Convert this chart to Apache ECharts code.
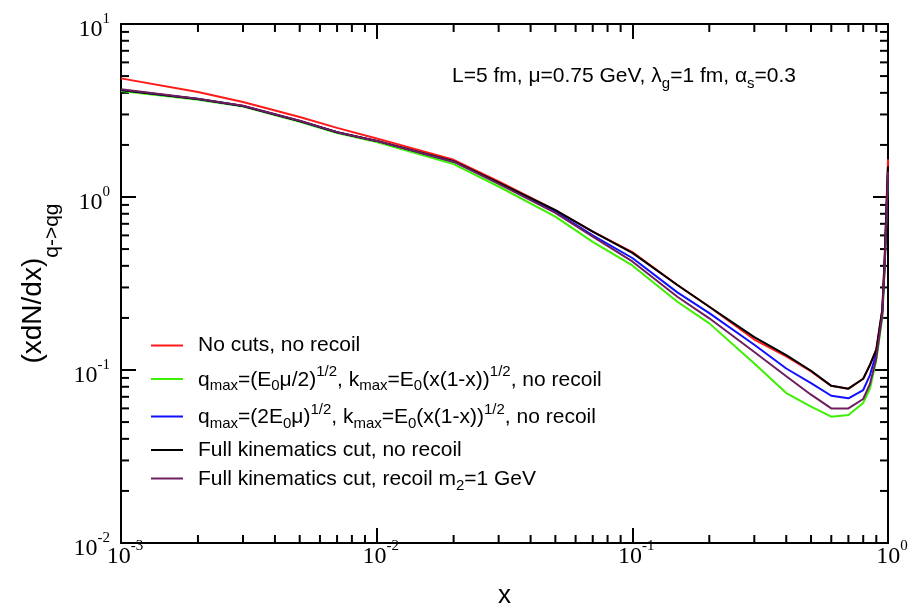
<!DOCTYPE html>
<html>
<head>
<meta charset="utf-8">
<script src="https://cdn.jsdelivr.net/npm/echarts@6/dist/echarts.min.js"></script>
<style>
html, body { margin: 0; padding: 0; background: #fff; }
#chart { width: 920px; height: 607px; }
</style>
</head>
<body>
<div id="chart"></div>
<script>
// x values (log axis) and the five curves
const xValues = [0.001, 0.002, 0.003, 0.005, 0.007, 0.01, 0.02, 0.03, 0.05, 0.07, 0.1, 0.15, 0.2, 0.3, 0.4, 0.5, 0.6, 0.7, 0.8, 0.85, 0.9, 0.95, 0.97, 0.99, 1.0];
const noCuts   = [4.85, 4.05, 3.54, 2.90, 2.51, 2.18, 1.64, 1.23, 0.84, 0.63, 0.48, 0.31, 0.232, 0.150, 0.120, 0.098, 0.081, 0.078, 0.089, 0.107, 0.131, 0.225, 0.44, 1.05, 1.65];
const qHalf    = [4.10, 3.65, 3.33, 2.72, 2.34, 2.08, 1.55, 1.15, 0.77, 0.55, 0.402, 0.248, 0.186, 0.109, 0.0736, 0.0615, 0.0537, 0.055, 0.0645, 0.078, 0.114, 0.20, 0.38, 0.90, 1.40];
const qTwo     = [4.15, 3.68, 3.36, 2.75, 2.37, 2.11, 1.60, 1.20, 0.82, 0.60, 0.444, 0.281, 0.213, 0.140, 0.102, 0.084, 0.071, 0.0686, 0.0766, 0.0935, 0.125, 0.216, 0.40, 0.96, 1.40];
const fullKin  = [4.15, 3.68, 3.36, 2.75, 2.37, 2.11, 1.61, 1.21, 0.84, 0.63, 0.475, 0.31, 0.232, 0.155, 0.122, 0.099, 0.081, 0.078, 0.089, 0.107, 0.131, 0.222, 0.43, 1.00, 1.50];
const recoil   = [4.20, 3.70, 3.37, 2.76, 2.37, 2.11, 1.60, 1.19, 0.81, 0.59, 0.424, 0.265, 0.199, 0.127, 0.092, 0.072, 0.060, 0.060, 0.068, 0.083, 0.117, 0.21, 0.39, 0.90, 1.40];

const seriesNames = ['No cuts, no recoil', 'qHalf', 'qTwo', 'Full kinematics cut, no recoil', 'Full kinematics cut, recoil'];
const seriesColors = ['#ff1a1a', '#3cf000', '#1010ff', '#000000', '#6e1e5e'];

// minor tick positions
const xMinorTicks = [0.002, 0.003, 0.004, 0.005, 0.006, 0.007, 0.008, 0.009,
  0.02, 0.03, 0.04, 0.05, 0.06, 0.07, 0.08, 0.09,
  0.2, 0.3, 0.4, 0.5, 0.6, 0.7, 0.8, 0.9];
const yMinorTicks = [0.02, 0.03, 0.04, 0.05, 0.06, 0.07, 0.08, 0.09,
  0.2, 0.3, 0.4, 0.5, 0.6, 0.7, 0.8, 0.9,
  2, 3, 4, 5, 6, 7, 8, 9];

const X_MIN = 0.001, X_MAX = 1, Y_MIN = 0.01, Y_MAX = 10;

const legendLabels = {
  'No cuts, no recoil': '{p|No cuts, no recoil}',
  'qHalf': '{t|q}{sub|max}{t|=(E}{sub|0}{t|\u03bc/2)}{sup|1/2}{t|, k}{sub|max}{t|=E}{sub|0}{t|(x(1-x))}{sup|1/2}{t|, no recoil}',
  'qTwo': '{t|q}{sub|max}{t|=(2E}{sub|0}{t|\u03bc)}{sup|1/2}{t|, k}{sub|max}{t|=E}{sub|0}{t|(x(1-x))}{sup|1/2}{t|, no recoil}',
  'Full kinematics cut, no recoil': '{p|Full kinematics cut, no recoil}',
  'Full kinematics cut, recoil': '{t|Full kinematics cut, recoil m}{sub|2}{t|=1 GeV}'
};

const chart = echarts.init(document.getElementById('chart'));

function powLabel(v) {
  const e = Math.round(Math.log10(v));
  return '{b|10}{s|' + e + '}';
}
const powRich = {
  b: { fontSize: 24, verticalAlign: 'top', padding: [6, 0, 0, 0], fontFamily: 'Liberation Serif', color: '#000' },
  s: { fontSize: 15, verticalAlign: 'top', padding: [0, 0, 0, 0], fontFamily: 'Liberation Serif', color: '#000' }
};

const axisLine = { show: true, onZero: false, lineStyle: { color: '#000', width: 2 } };
const majorTick = { show: true, inside: true, length: 15, lineStyle: { color: '#000', width: 2 } };

function xMinorItem(params, api) {
  const v = api.value(0);
  const b = api.coord([v, Y_MIN]);
  const t = api.coord([v, Y_MAX]);
  const st = { stroke: '#000', lineWidth: 2 };
  return {
    type: 'group',
    children: [
      { type: 'line', shape: { x1: b[0], y1: b[1], x2: b[0], y2: b[1] - 8 }, style: st },
      { type: 'line', shape: { x1: t[0], y1: t[1], x2: t[0], y2: t[1] + 8 }, style: st }
    ]
  };
}
function yMinorItem(params, api) {
  const v = api.value(1);
  const l = api.coord([X_MIN, v]);
  const r = api.coord([X_MAX, v]);
  const st = { stroke: '#000', lineWidth: 2 };
  return {
    type: 'group',
    children: [
      { type: 'line', shape: { x1: l[0], y1: l[1], x2: l[0] + 8, y2: l[1] }, style: st },
      { type: 'line', shape: { x1: r[0], y1: r[1], x2: r[0] - 8, y2: r[1] }, style: st }
    ]
  };
}

const curves = [noCuts, qHalf, qTwo, fullKin, recoil];

const option = {
  animation: false,
  backgroundColor: '#fff',
  title: {
    text: '{t|L=5 fm, \u03bc=0.75 GeV, \u03bb}{sub|g}{t|=1 fm, \u03b1}{sub|s}{t|=0.3}',
    left: 447,
    top: 61,
    textStyle: {
      fontSize: 21,
      fontWeight: 'normal',
      fontFamily: 'Liberation Sans',
      color: '#000',
      rich: {
        t: { fontSize: 21, verticalAlign: 'top', fontFamily: 'Liberation Sans', color: '#000' },
        sub: { fontSize: 15, verticalAlign: 'top', padding: [10, 0, 0, 0], fontFamily: 'Liberation Sans', color: '#000' }
      }
    }
  },
  legend: {
    orient: 'vertical',
    left: 151,
    top: 335,
    padding: 0,
    itemWidth: 32,
    itemHeight: 2,
    itemGap: 8.5,
    icon: 'rect',
    data: seriesNames,
    formatter: function (name) { return legendLabels[name]; },
    textStyle: {
      fontSize: 21,
      fontFamily: 'Liberation Sans',
      color: '#000',
      padding: [0, 0, 0, 10],
      rich: {
        p: { fontSize: 21, fontFamily: 'Liberation Sans', color: '#000' },
        t: { fontSize: 21, verticalAlign: 'top', padding: [5, 0, 0, 0], fontFamily: 'Liberation Sans', color: '#000' },
        sub: { fontSize: 15, verticalAlign: 'top', padding: [14, 0, 0, 0], fontFamily: 'Liberation Sans', color: '#000' },
        sup: { fontSize: 15, verticalAlign: 'top', padding: [0, 0, 0, 0], fontFamily: 'Liberation Sans', color: '#000' }
      }
    }
  },
  grid: { left: 121, right: 32, top: 24, bottom: 64, containLabel: false, outerBoundsMode: 'none' },
  xAxis: [
    {
      type: 'log', logBase: 10, min: X_MIN, max: X_MAX, position: 'bottom',
      name: 'x', nameLocation: 'middle', nameGap: 40,
      nameTextStyle: { fontSize: 26, fontFamily: 'Liberation Sans', color: '#000' },
      axisLine: axisLine, axisTick: majorTick, splitLine: { show: false },
      axisLabel: {
        margin: -4, padding: [0, 0, 0, 8], showMinLabel: true, showMaxLabel: true,
        formatter: powLabel, rich: powRich
      }
    },
    {
      type: 'log', logBase: 10, min: X_MIN, max: X_MAX, position: 'top',
      axisLine: axisLine, axisTick: majorTick, splitLine: { show: false },
      axisLabel: { show: false }
    }
  ],
  yAxis: [
    {
      type: 'log', logBase: 10, min: Y_MIN, max: Y_MAX, position: 'left',
      name: '{m|(xdN/dx)}{s|q->qg}', nameLocation: 'middle', nameGap: 58,
      nameTextStyle: {
        color: '#000',
        rich: {
          m: { fontSize: 28, lineHeight: 30, verticalAlign: 'top', fontFamily: 'Liberation Sans', color: '#000' },
          s: { fontSize: 21, lineHeight: 22, padding: [22, 0, 0, 0], verticalAlign: 'top', fontFamily: 'Liberation Sans', color: '#000' }
        }
      },
      axisLine: axisLine, axisTick: majorTick, splitLine: { show: false },
      axisLabel: {
        margin: 11, padding: [6, 0, 0, 0], showMinLabel: true, showMaxLabel: true,
        formatter: powLabel, rich: powRich
      }
    },
    {
      type: 'log', logBase: 10, min: Y_MIN, max: Y_MAX, position: 'right',
      axisLine: axisLine, axisTick: majorTick, splitLine: { show: false },
      axisLabel: { show: false }
    }
  ],
  series: seriesNames.map(function (name, i) {
    return {
      name: name,
      type: 'line',
      xAxisIndex: 0,
      yAxisIndex: 0,
      color: seriesColors[i],
      symbol: 'none',
      smooth: false,
      lineStyle: { color: seriesColors[i], width: 2 },
      data: xValues.map(function (x, j) { return [x, curves[i][j]]; }),
      z: 3 + i
    };
  }).concat([
    {
      type: 'custom', xAxisIndex: 0, yAxisIndex: 0, silent: true, clip: false,
      renderItem: xMinorItem,
      data: xMinorTicks.map(function (v) { return [v, Y_MIN]; })
    },
    {
      type: 'custom', xAxisIndex: 0, yAxisIndex: 0, silent: true, clip: false,
      renderItem: yMinorItem,
      data: yMinorTicks.map(function (v) { return [X_MIN, v]; })
    }
  ])
};

chart.setOption(option);
</script>
</body>
</html>
